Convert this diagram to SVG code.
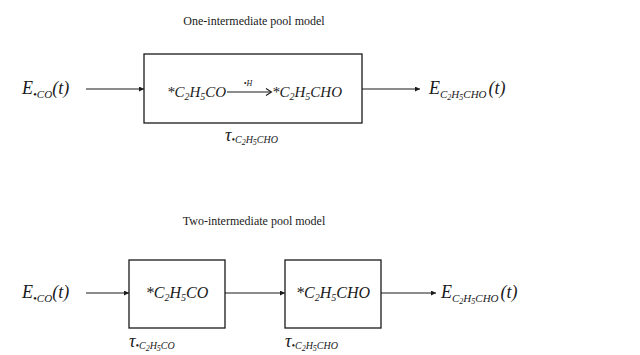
<svg xmlns="http://www.w3.org/2000/svg" width="640" height="355" viewBox="0 0 640 355">
<defs>
<marker id="ah" viewBox="0 0 10 10" refX="10" refY="5" markerWidth="7" markerHeight="5" orient="auto" markerUnits="userSpaceOnUse">
<path d="M0,0 L10,5 L0,10 z" fill="#1a1a1a"/>
</marker>
</defs>
<style>
.t{font-family:"Liberation Serif","Times New Roman",serif;font-size:12px;fill:#1a1a1a}
.m{font-family:"Liberation Serif","Times New Roman",serif;font-style:italic;fill:#1a1a1a}
.box{fill:#fff;stroke:#1a1a1a;stroke-width:1.3}
.ln{stroke:#1a1a1a;stroke-width:1.1;fill:none}
</style>
<rect width="640" height="355" fill="#fff"/>

<text class="t" x="254" y="25" text-anchor="middle">One-intermediate pool model</text>
<text class="t" x="254" y="225" text-anchor="middle">Two-intermediate pool model</text>

<g id="in1">
<text class="m" x="22" y="94" font-size="18">E<tspan font-size="11" dy="4">•CO</tspan><tspan dy="-4">(t)</tspan></text>
</g>

<g id="pool1">
<rect class="box" x="144" y="54" width="218" height="69"/>
<text class="m" x="167" y="97" font-size="15">*C<tspan font-size="10" dy="3">2</tspan><tspan dy="-3">H</tspan><tspan font-size="10" dy="3">5</tspan><tspan dy="-3">CO</tspan></text>
<line class="ln" x1="227" y1="92" x2="271" y2="92"/>
<polyline class="ln" points="266,88.5 271.5,92 266,95.5"/>
<text class="m" x="248" y="86" font-size="8" text-anchor="middle">•H</text>
<text class="m" x="272" y="97" font-size="15">*C<tspan font-size="10" dy="3">2</tspan><tspan dy="-3">H</tspan><tspan font-size="10" dy="3">5</tspan><tspan dy="-3">CHO</tspan></text>
<text class="m" x="225" y="141" font-size="18">τ<tspan font-size="10" dy="2">•C</tspan><tspan font-size="8" dy="2">2</tspan><tspan font-size="10" dy="-2">H</tspan><tspan font-size="8" dy="2">5</tspan><tspan font-size="10" dy="-2">CHO</tspan></text>
</g>

<g id="out1">
<text class="m" x="429" y="94" font-size="18">E<tspan font-size="11" dy="4">C</tspan><tspan font-size="8" dy="2">2</tspan><tspan font-size="11" dy="-2">H</tspan><tspan font-size="8" dy="2">5</tspan><tspan font-size="11" dy="-2">CHO</tspan><tspan dy="-4" dx="2">(t)</tspan></text>
</g>

<g id="in2">
<text class="m" x="22" y="298" font-size="18">E<tspan font-size="11" dy="4">•CO</tspan><tspan dy="-4">(t)</tspan></text>
</g>

<g id="pool2a">
<rect class="box" x="129" y="260" width="96" height="68"/>
<text class="m" x="177" y="298" font-size="16" text-anchor="middle">*C<tspan font-size="10" dy="3">2</tspan><tspan dy="-3">H</tspan><tspan font-size="10" dy="3">5</tspan><tspan dy="-3">CO</tspan></text>
<text class="m" x="129" y="347" font-size="18">τ<tspan font-size="10" dy="2">•C</tspan><tspan font-size="8" dy="2">2</tspan><tspan font-size="10" dy="-2">H</tspan><tspan font-size="8" dy="2">5</tspan><tspan font-size="10" dy="-2">CO</tspan></text>
</g>

<g id="pool2b">
<rect class="box" x="285" y="260" width="96" height="68"/>
<text class="m" x="333" y="298" font-size="16" text-anchor="middle">*C<tspan font-size="10" dy="3">2</tspan><tspan dy="-3">H</tspan><tspan font-size="10" dy="3">5</tspan><tspan dy="-3">CHO</tspan></text>
<text class="m" x="285" y="347" font-size="18">τ<tspan font-size="10" dy="2">•C</tspan><tspan font-size="8" dy="2">2</tspan><tspan font-size="10" dy="-2">H</tspan><tspan font-size="8" dy="2">5</tspan><tspan font-size="10" dy="-2">CHO</tspan></text>
</g>

<g id="out2">
<text class="m" x="441" y="298" font-size="18">E<tspan font-size="11" dy="4">C</tspan><tspan font-size="8" dy="2">2</tspan><tspan font-size="11" dy="-2">H</tspan><tspan font-size="8" dy="2">5</tspan><tspan font-size="11" dy="-2">CHO</tspan><tspan dy="-4" dx="2">(t)</tspan></text>
</g>

<g id="connectors">
<line class="ln" x1="86" y1="89" x2="144" y2="89" marker-end="url(#ah)"/>
<line class="ln" x1="362" y1="89" x2="420" y2="89" marker-end="url(#ah)"/>
<line class="ln" x1="86" y1="293" x2="129" y2="293" marker-end="url(#ah)"/>
<line class="ln" x1="225" y1="293" x2="285" y2="293" marker-end="url(#ah)"/>
<line class="ln" x1="381" y1="293" x2="436" y2="293" marker-end="url(#ah)"/>
</g>
</svg>
